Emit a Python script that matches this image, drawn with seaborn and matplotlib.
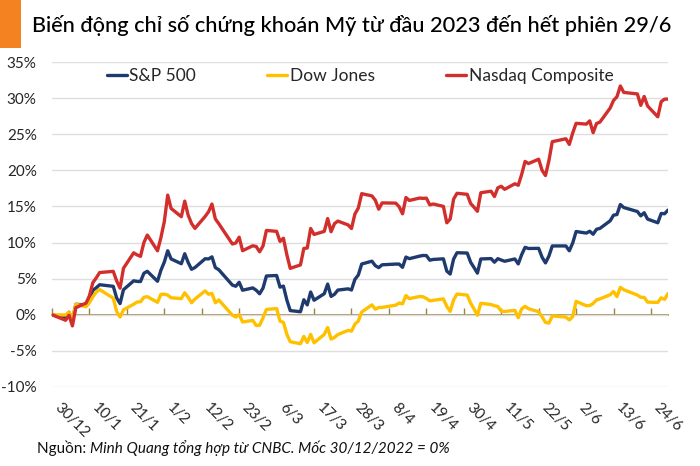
import matplotlib
matplotlib.use("Agg")
import matplotlib.pyplot as plt
import matplotlib.dates as mdates
from matplotlib.patches import Rectangle
import seaborn as sns
import pandas as pd

# Phiên giao dịch từ 30/12/2022 đến 29/6/2023
sessions = [
    "2022-12-30",
    "2023-01-03", "2023-01-04", "2023-01-05", "2023-01-06", "2023-01-09", "2023-01-10",
    "2023-01-11", "2023-01-12", "2023-01-13", "2023-01-17", "2023-01-18", "2023-01-19",
    "2023-01-20", "2023-01-23", "2023-01-24", "2023-01-25", "2023-01-26", "2023-01-27",
    "2023-01-30", "2023-01-31",
    "2023-02-01", "2023-02-02", "2023-02-03", "2023-02-06", "2023-02-07", "2023-02-08",
    "2023-02-09", "2023-02-10", "2023-02-13", "2023-02-14", "2023-02-15", "2023-02-16",
    "2023-02-17", "2023-02-21", "2023-02-22", "2023-02-23", "2023-02-24", "2023-02-27",
    "2023-02-28",
    "2023-03-01", "2023-03-02", "2023-03-03", "2023-03-06", "2023-03-07", "2023-03-08",
    "2023-03-09", "2023-03-10", "2023-03-13", "2023-03-14", "2023-03-15", "2023-03-16",
    "2023-03-17", "2023-03-20", "2023-03-21", "2023-03-22", "2023-03-23", "2023-03-24",
    "2023-03-27", "2023-03-28", "2023-03-29", "2023-03-30", "2023-03-31",
    "2023-04-03", "2023-04-04", "2023-04-05", "2023-04-06", "2023-04-10", "2023-04-11",
    "2023-04-12", "2023-04-13", "2023-04-14", "2023-04-17", "2023-04-18", "2023-04-19",
    "2023-04-20", "2023-04-21", "2023-04-24", "2023-04-25", "2023-04-26", "2023-04-27",
    "2023-04-28",
    "2023-05-01", "2023-05-02", "2023-05-03", "2023-05-04", "2023-05-05", "2023-05-08",
    "2023-05-09", "2023-05-10", "2023-05-11", "2023-05-12", "2023-05-15", "2023-05-16",
    "2023-05-17", "2023-05-18", "2023-05-19", "2023-05-22", "2023-05-23", "2023-05-24",
    "2023-05-25", "2023-05-26", "2023-05-30", "2023-05-31",
    "2023-06-01", "2023-06-02", "2023-06-05", "2023-06-06", "2023-06-07", "2023-06-08",
    "2023-06-09", "2023-06-12", "2023-06-13", "2023-06-14", "2023-06-15", "2023-06-16",
    "2023-06-20", "2023-06-21", "2023-06-22", "2023-06-23", "2023-06-26", "2023-06-27",
    "2023-06-28", "2023-06-29",
]

# % thay đổi so với 30/12/2022
sp500 = [
    0.00,
    -0.40, 0.35, -0.82, 1.45, 1.37, 2.08, 3.39, 3.74, 4.16, 3.94, 2.33, 1.55, 3.47, 4.70,
    4.62, 4.60, 5.75, 6.02, 4.64, 6.17,
    7.29, 8.86, 7.73, 7.07, 8.45, 7.25, 6.30, 6.54, 7.76, 7.73, 8.02, 6.53, 6.24, 4.11,
    3.95, 4.50, 3.40, 3.72, 3.40,
    2.91, 3.69, 5.37, 5.44, 3.83, 3.97, 2.05, 0.58, 0.42, 2.08, 1.37, 3.15, 2.01, 2.92,
    4.25, 2.54, 2.84, 3.42, 3.59, 3.43, 4.90, 5.50, 7.03,
    7.42, 6.80, 6.53, 6.92, 7.02, 7.02, 6.57, 7.99, 7.77, 8.12, 8.21, 8.20, 7.56, 7.66,
    7.75, 6.05, 5.64, 7.71, 8.59,
    8.55, 7.29, 6.54, 5.77, 7.73, 7.78, 7.28, 7.77, 7.58, 7.41, 7.73, 7.04, 8.32, 9.34,
    9.18, 9.20, 7.97, 7.18, 8.12, 9.53, 9.53, 8.86,
    9.94, 11.53, 11.31, 11.57, 11.15, 11.84, 11.96, 13.01, 13.79, 13.88, 15.27, 14.85,
    14.30, 13.70, 14.13, 13.25, 12.74, 14.03, 13.99, 14.50,
]

dow_jones = [
    0.00,
    -0.03, 0.37, -0.66, 1.46, 1.12, 1.68, 2.49, 3.15, 3.49, 2.30, 0.45, -0.31, 0.69, 1.46,
    1.77, 1.80, 2.42, 2.51, 1.72, 2.83,
    2.85, 2.73, 2.35, 2.24, 3.05, 2.42, 1.67, 2.18, 3.31, 2.84, 2.96, 1.66, 2.05, -0.05,
    -0.31, 0.02, -1.00, -0.78, -1.48,
    -1.46, -0.43, 0.74, 0.86, -0.88, -1.05, -2.69, -3.73, -4.01, -2.99, -3.84, -2.72,
    -3.88, -2.72, -1.77, -3.37, -3.14, -2.74, -2.16, -2.27, -1.30, -0.87, 0.38,
    1.37, 0.77, 1.01, 1.02, 1.33, 1.62, 1.51, 2.66, 2.23, 2.53, 2.50, 2.26, 1.93, 2.00,
    2.20, 1.16, 0.47, 2.05, 2.87,
    2.73, 1.62, 0.81, -0.06, 1.59, 1.42, 1.25, 1.16, 0.49, 0.46, 0.61, -0.41, 0.82, 1.17,
    0.84, 0.42, -0.28, -1.05, -1.16, -0.16, -0.32, -0.72,
    -0.26, 1.86, 1.25, 1.28, 1.56, 2.07, 2.20, 2.77, 3.21, 2.51, 3.80, 3.47, 2.73, 2.42,
    2.41, 1.75, 1.71, 2.35, 2.13, 2.94,
]

nasdaq = [
    0.00,
    -0.76, -0.07, -1.54, 0.98, 1.62, 2.64, 4.44, 5.11, 5.85, 6.01, 4.69, 3.69, 6.44, 8.58,
    8.29, 8.09, 9.99, 11.04, 8.86, 10.68,
    12.90, 16.57, 14.72, 13.58, 15.74, 13.80, 12.64, 11.96, 13.62, 14.27, 15.33, 13.27,
    12.62, 9.80, 9.94, 10.74, 8.87, 9.56, 9.45,
    8.72, 9.52, 11.68, 11.55, 10.16, 10.60, 8.33, 6.43, 6.90, 9.19, 9.24, 11.95, 11.12,
    11.55, 13.32, 11.50, 12.62, 12.97, 12.44, 11.94, 13.95, 14.78, 16.77,
    16.46, 15.86, 14.62, 15.49, 15.46, 14.96, 13.98, 16.24, 15.83, 16.16, 16.12, 16.15,
    15.22, 15.34, 15.01, 12.73, 13.26, 16.01, 16.82,
    16.68, 15.42, 14.89, 14.33, 16.90, 17.11, 16.37, 17.58, 17.79, 17.37, 18.14, 17.93,
    19.43, 21.23, 20.94, 21.54, 20.00, 19.28, 21.32, 23.97, 24.37, 23.59,
    25.17, 26.51, 26.40, 26.85, 25.21, 26.48, 26.68, 28.62, 29.68, 30.19, 31.68, 30.79,
    30.58, 29.00, 30.23, 28.91, 27.41, 29.51, 29.86, 29.86,
]

index_names = ["S&P 500", "Dow Jones", "Nasdaq Composite"]
index_colors = ["#1f3a6e", "#ffc000", "#d22f2c"]

df = pd.DataFrame({
    "ngay": pd.to_datetime(sessions),
    "S&P 500": sp500,
    "Dow Jones": dow_jones,
    "Nasdaq Composite": nasdaq,
})
long_df = df.melt(id_vars="ngay", var_name="chi_so", value_name="bien_dong")

sns.set_theme(style="white")
plt.rcParams["font.family"] = ["Lato", "DejaVu Sans"]
plt.rcParams["axes.unicode_minus"] = False

fig = plt.figure(figsize=(7, 4.66), dpi=100)
ax = fig.add_axes([52 / 700, 1 - 387 / 466, 616 / 700, 325 / 466])

sns.lineplot(data=long_df, x="ngay", y="bien_dong", hue="chi_so",
             hue_order=index_names, palette=dict(zip(index_names, index_colors)),
             linewidth=2.4, ax=ax, zorder=3)

# trục
start, end = df["ngay"].iloc[0], df["ngay"].iloc[-1]
tick_dates = pd.date_range(start, end, freq="11D")
ax.set_xlim(start, end)
ax.set_xticks(tick_dates)
ax.set_xticklabels([f"{d.day}/{d.month}" for d in tick_dates],
                   rotation=-45, ha="left", va="top")
ax.tick_params(axis="x", length=0, pad=10, labelsize=11, labelcolor="#262626")

ax.set_ylim(-10, 35)
y_ticks = list(range(-10, 36, 5))
ax.set_yticks(y_ticks)
ax.set_yticklabels([f"{v}%" for v in y_ticks])
ax.tick_params(axis="y", length=0, pad=11, labelsize=11, labelcolor="#262626")
ax.set_xlabel("")
ax.set_ylabel("")
ax.grid(axis="y", color="#dedede", linewidth=1)
ax.grid(axis="x", visible=False)
for s in ax.spines.values():
    s.set_visible(False)

# đường 0% có vạch chia
zero_ax = ax.secondary_xaxis(10 / 45)
zero_ax.set_xticks(mdates.date2num(tick_dates))
zero_ax.tick_params(bottom=True, direction="in", length=5, width=1,
                    color="#9a8444", labelbottom=False)
zero_ax.spines["bottom"].set_color("#9a8444")
zero_ax.spines["bottom"].set_linewidth(1.2)

handles, labels = ax.get_legend_handles_labels()
ax.legend(handles, labels, loc="center", bbox_to_anchor=(0.5, 0.957), ncol=3,
          frameon=False, fontsize=12.5, handlelength=1.15, handletextpad=0.15,
          columnspacing=4.1, borderaxespad=0)

# tiêu đề
fig.add_artist(Rectangle((0, 1 - 48 / 466), 21 / 700, 48 / 466,
                         transform=fig.transFigure, color="#f58220", lw=0))
fig.text(32 / 700, 1 - 32 / 466,
         "Biến động chỉ số chứng khoán Mỹ từ đầu 2023 đến hết phiên 29/6",
         fontsize=15.7, fontweight="medium", va="baseline", ha="left", color="#000000")

# nguồn
src = fig.text(37 / 700, 1 - 453 / 466, "Nguồn: ", fontsize=11,
               va="baseline", ha="left", color="#111111")
ax.annotate("Minh Quang tổng hợp từ CNBC. Mốc 30/12/2022 = 0%",
            xy=(1, 0), xycoords=src, va="bottom", ha="left",
            fontsize=11, style="italic", color="#111111", annotation_clip=False)

fig.savefig("out.png", dpi=100)
